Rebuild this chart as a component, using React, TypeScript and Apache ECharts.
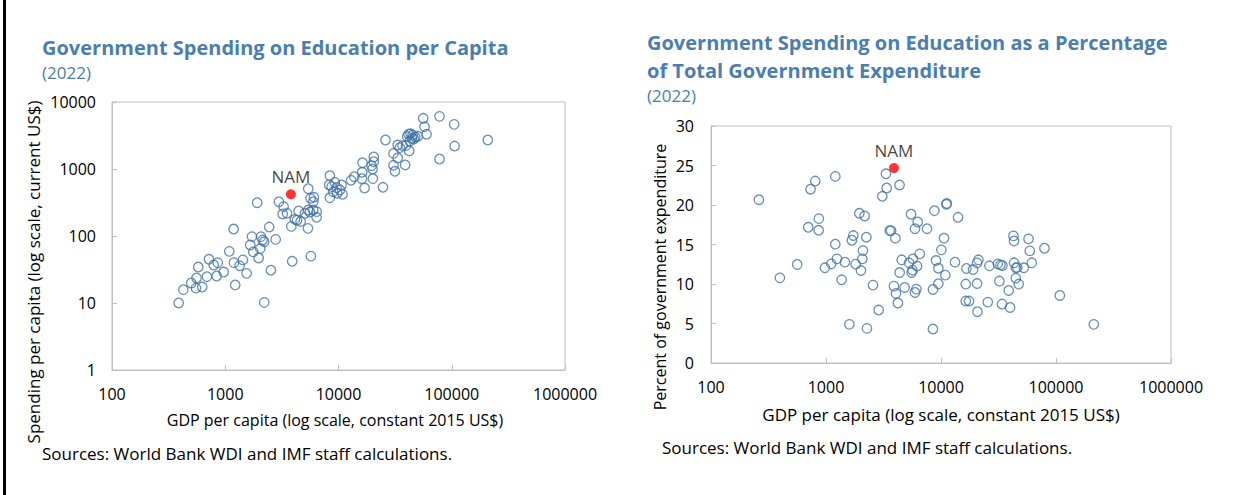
import React, { useEffect, useRef } from "react";
import * as echarts from "echarts";

// ---- Data ----
// Left chart: [GDP per capita (constant 2015 US$), spending per capita (current US$)]
const spendingPerCapita: [number, number][] = [
  [388, 10], [426, 15.8], [501, 19.9], [551, 16.7], [558, 23.6], [626, 17.3], [578, 34.4],
  [689, 24.7], [718, 44.9], [791, 36.9], [858, 40], [840, 25.3], [968, 29], [1085, 59],
  [1186, 127], [1193, 40], [1225, 18.6], [1340, 36], [1433, 44], [1544, 27.7], [1662, 73.5],
  [1721, 98], [1767, 58], [1971, 47], [2037, 65], [2066, 98], [2138, 87], [2209, 82],
  [2209, 10.2], [2445, 136], [2530, 30.8], [2785, 89], [1914, 314], [2978, 325], [3275, 274],
  [3212, 213], [3509, 218], [3830, 139], [3902, 42], [4121, 177], [4446, 236], [4300, 172],
  [4627, 165], [5050, 218], [5370, 130], [5405, 508], [5705, 50], [5670, 365], [6067, 378],
  [5987, 325], [5405, 244], [5600, 228], [5987, 244], [6410, 231], [6410, 190],
  [8390, 373], [8280, 577], [9730, 434], [10870, 419], [10640, 577], [9290, 631], [8690, 545],
  [9620, 526], [8970, 458], [10280, 486], [8390, 794], [12900, 678], [13800, 767], [16100, 716],
  [20100, 717], [16200, 893], [20000, 1000], [19600, 1120], [16300, 1240], [20500, 1285],
  [20500, 1510], [17000, 520], [24700, 533], [26000, 2710], [30600, 1135], [31500, 925],
  [38800, 1150], [30600, 1710], [33300, 1460], [42100, 1860], [33300, 2280], [34800, 2080],
  [36800, 2230], [39400, 2230], [40400, 3050], [41600, 3300], [43300, 3370], [45100, 3210],
  [47500, 3000], [50200, 3080], [44500, 2870], [42700, 2620], [46200, 2800], [55960, 5710],
  [78000, 6110], [105000, 4640], [57500, 4280], [59900, 3300], [208000, 2710], [106000, 2200],
  [78000, 1410],
];
const namSpending: [number, number][] = [[3800, 420]];

// Right chart: [GDP per capita (constant 2015 US$), education share of total expenditure (%)]
const spendingShare: [number, number][] = [
  [261, 20.67], [397, 10.78], [562, 12.47], [734, 22.0], [807, 23.03], [701, 17.18], [867, 18.27],
  [863, 16.8], [978, 12.05], [1111, 12.55], [1245, 13.18], [1205, 15.04], [1205, 23.62],
  [1367, 10.53], [1462, 12.76], [1597, 4.89], [1680, 15.54], [1729, 16.13], [1811, 12.51],
  [1950, 18.95], [2014, 11.7], [2070, 13.18], [2095, 14.23], [2168, 18.61], [2244, 15.92],
  [2270, 4.38], [2560, 9.86], [2870, 6.7], [3090, 21.1], [3370, 22.15], [3320, 23.95],
  [4360, 22.53], [3580, 16.76], [3680, 16.76], [4010, 15.8], [3900, 9.73], [4060, 8.8],
  [4220, 7.59], [4370, 11.45], [4550, 13.06], [4830, 9.56], [5270, 12.68], [5490, 18.83],
  [5710, 13.18], [5560, 11.45], [5650, 11.75], [5940, 17.0], [6270, 17.85], [5940, 8.93],
  [6110, 9.35], [6180, 12.26], [6530, 13.81], [7560, 17.0], [8510, 9.31], [8760, 19.28],
  [9050, 12.97], [9490, 12.0], [9490, 10.03], [8510, 4.3], [10070, 14.32], [10620, 15.8],
  [11140, 20.09], [11250, 20.2], [10910, 11.12], [13240, 12.76], [14060, 18.44],
  [16640, 11.96], [19000, 11.83], [20580, 12.67], [21160, 13.06], [16400, 9.99], [20580, 10.06],
  [16400, 7.84], [17540, 7.84], [20740, 6.49], [25500, 7.71], [26350, 12.3], [31170, 12.55],
  [32880, 12.42], [34200, 12.34], [32200, 10.37], [33950, 7.46], [38800, 9.18], [39900, 7.03],
  [42700, 16.09], [43200, 15.45], [43200, 12.68], [44700, 10.74], [44700, 12.05], [46000, 12.1],
  [47400, 9.99], [52500, 12.05], [57700, 15.71], [59200, 14.19], [61500, 12.68], [79400, 14.53],
  [108000, 8.55], [213000, 4.89],
];
const namShare: [number, number][] = [[3900, 24.67]];

const logXTicks = [100, 1000, 10000, 100000, 1000000];
const logYTicks = [1, 10, 100, 1000, 10000];
const pctTicks = [0, 5, 10, 15, 20, 25, 30];

const leftTitle = "Government Spending on Education per Capita";
const rightTitle1 = "Government Spending on Education as a Percentage";
const rightTitle2 = "of Total Government Expenditure";
const yearNote = "(2022)";
const leftYName = "Spending per capita (log scale, current US$)";
const rightYName = "Percent of government expenditure";
const xName = "GDP per capita (log scale, constant 2015 US$)";
const sourceNote = "Sources: World Bank WDI and IMF staff calculations.";

const FONT = "'Open Sans', 'Noto Sans', sans-serif";
const TITLE_COLOR = "#4A7EB0";
const MARK_COLOR = "#3F72A6";
const AXIS_COLOR = "#BFBFBF";

const fmt = (v: number) => String(Math.round(v));

function axisBase(extra: any) {
  return {
    axisLine: { show: true, lineStyle: { color: AXIS_COLOR, width: 1 } },
    axisTick: { show: true, inside: true, length: 5, lineStyle: { color: AXIS_COLOR } },
    splitLine: { show: false },
    minorTick: { show: false },
    ...extra,
  };
}
const lbl = (margin: number) => ({ color: "#000", fontSize: 16, fontFamily: FONT, formatter: fmt, margin });

export default function App() {
  const ref = useRef<HTMLDivElement>(null);
  useEffect(() => {
    if (!ref.current) return;
    const chart = echarts.init(ref.current, undefined, { renderer: "svg" });
    const hollow = {
      symbol: "circle",
      symbolSize: 9.5,
      itemStyle: { color: "rgba(255,255,255,0)", borderColor: MARK_COLOR, borderWidth: 1.3 },
    };
    const namLabel = {
      show: true,
      formatter: "NAM",
      position: "top",
      distance: 4,
      color: "#111",
      fontSize: 17,
      fontFamily: FONT,
    };
    const text = (x: number, y: number, t: string, style: any, extra: any = {}) => ({
      type: "text",
      x,
      y,
      style: { text: t, fontFamily: FONT, fill: "#000", fontSize: 16, ...style },
      ...extra,
    });
    chart.setOption({
      animation: false,
      backgroundColor: "#fff",
      grid: [
        { left: 112, top: 102, width: 453, height: 268, show: true, borderColor: AXIS_COLOR, borderWidth: 1, backgroundColor: "transparent" },
        { left: 711, top: 126, width: 460, height: 237, show: true, borderColor: AXIS_COLOR, borderWidth: 1, backgroundColor: "transparent" },
      ],
      xAxis: [
        axisBase({ type: "log", logBase: 10, gridIndex: 0, min: logXTicks[0], max: logXTicks[logXTicks.length - 1], axisLabel: lbl(16) }),
        axisBase({ type: "log", logBase: 10, gridIndex: 1, min: logXTicks[0], max: logXTicks[logXTicks.length - 1], axisLabel: lbl(16) }),
      ],
      yAxis: [
        axisBase({ type: "log", logBase: 10, gridIndex: 0, min: logYTicks[0], max: logYTicks[logYTicks.length - 1], axisLabel: lbl(16) }),
        axisBase({ type: "value", gridIndex: 1, min: pctTicks[0], max: pctTicks[pctTicks.length - 1], interval: 5, axisLabel: lbl(17) }),
      ],
      series: [
        { type: "scatter", xAxisIndex: 0, yAxisIndex: 0, data: spendingPerCapita, ...hollow },
        { type: "scatter", xAxisIndex: 0, yAxisIndex: 0, data: namSpending, symbol: "circle", symbolSize: 10, itemStyle: { color: "#FF0000" }, label: namLabel },
        { type: "scatter", xAxisIndex: 1, yAxisIndex: 1, data: spendingShare, ...hollow },
        { type: "scatter", xAxisIndex: 1, yAxisIndex: 1, data: namShare, symbol: "circle", symbolSize: 10, itemStyle: { color: "#FF0000" }, label: namLabel },
      ],
      graphic: [
        { type: "line", shape: { x1: 4.5, y1: 0, x2: 4.5, y2: 495 }, style: { stroke: "#000", lineWidth: 3 } },
        text(42, 47, leftTitle, { fill: TITLE_COLOR, fontSize: 20, fontWeight: "bold", textVerticalAlign: "middle" }),
        text(42, 72, yearNote, { fill: TITLE_COLOR, fontSize: 17, textVerticalAlign: "middle" }),
        text(647, 42, rightTitle1, { fill: TITLE_COLOR, fontSize: 20, fontWeight: "bold", textVerticalAlign: "middle" }),
        text(647, 70, rightTitle2, { fill: TITLE_COLOR, fontSize: 20, fontWeight: "bold", textVerticalAlign: "middle" }),
        text(647, 95, yearNote, { fill: TITLE_COLOR, fontSize: 17, textVerticalAlign: "middle" }),
        text(33, 272, leftYName, { fontSize: 17, textAlign: "center", textVerticalAlign: "middle" }, { rotation: Math.PI / 2 }),
        text(660, 277, rightYName, { fontSize: 16, textAlign: "center", textVerticalAlign: "middle" }, { rotation: Math.PI / 2 }),
        text(335, 420, xName, { fontSize: 16, textAlign: "center", textVerticalAlign: "middle" }),
        text(941, 414, xName, { fontSize: 17, textAlign: "center", textVerticalAlign: "middle" }),
        text(42, 453, sourceNote, { fontSize: 17, textVerticalAlign: "middle" }),
        text(662, 447, sourceNote, { fontSize: 17, textVerticalAlign: "middle" }),
      ],
    });
    return () => chart.dispose();
  }, []);
  return (
    <div
      ref={ref}
      style={{ position: "absolute", left: 0, top: 0, width: 1239, height: 495, background: "#fff" }}
    />
  );
}
